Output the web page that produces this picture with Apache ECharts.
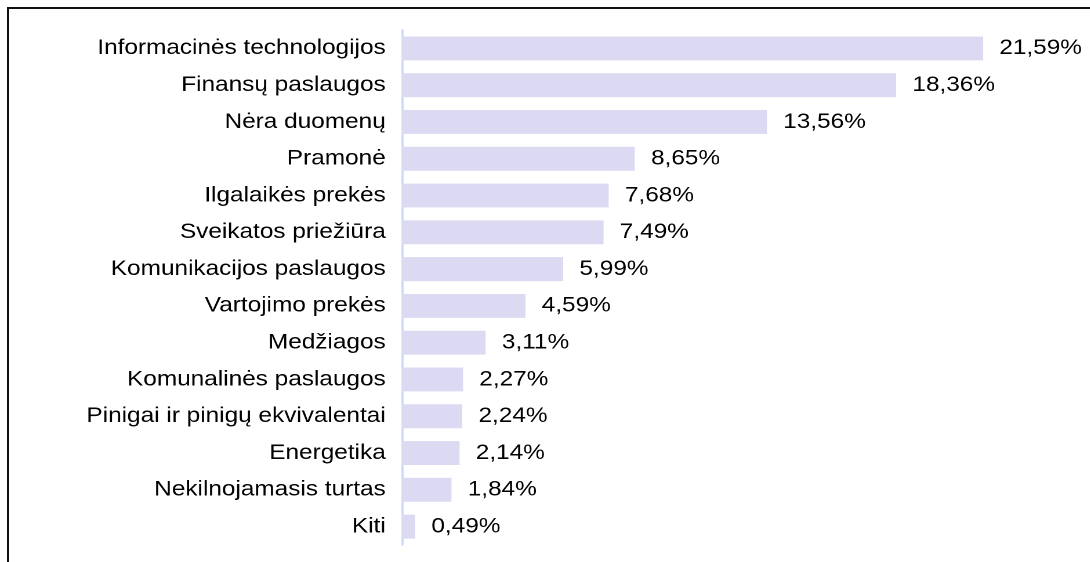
<!DOCTYPE html>
<html>
<head>
<meta charset="utf-8">
<script src="https://cdn.jsdelivr.net/npm/echarts@6/dist/echarts.min.js"></script>
<style>
  html, body { margin: 0; padding: 0; background: #fff; overflow: hidden; }
  #frame {
    position: absolute; left: 7px; top: 7px; width: 1100px; height: 600px;
    border-top: 2px solid #111; border-left: 2px solid #111;
  }
  /* the source picture is a bit stretched sideways, so the chart is too */
  #chart {
    position: absolute; left: 0; top: 0; width: 940px; height: 562px;
    transform: scaleX(1.16); transform-origin: 0 0;
  }
</style>
</head>
<body>
<div id="frame"></div>
<div id="chart"></div>
<script>
  const categories = [
    'Informacinės technologijos',
    'Finansų paslaugos',
    'Nėra duomenų',
    'Pramonė',
    'Ilgalaikės prekės',
    'Sveikatos priežiūra',
    'Komunikacijos paslaugos',
    'Vartojimo prekės',
    'Medžiagos',
    'Komunalinės paslaugos',
    'Pinigai ir pinigų ekvivalentai',
    'Energetika',
    'Nekilnojamasis turtas',
    'Kiti'
  ]
  const shares = [21.59, 18.36, 13.56, 8.65, 7.68, 7.49, 5.99, 4.59, 3.11, 2.27, 2.24, 2.14, 1.84, 0.49]

  const chart = echarts.init(document.getElementById('chart'), null, { devicePixelRatio: 2 })
  const option = {
    animation: false,
    textStyle: { fontFamily: '"Liberation Sans", Arial, sans-serif' },
    grid: { left: 346.5, right: 83, top: 30, bottom: 17, containLabel: false },
    xAxis: {
      type: 'value',
      min: 0,
      max: 22,
      show: false
    },
    yAxis: {
      type: 'category',
      inverse: true,
      data: categories,
      axisLine: { show: true, lineStyle: { color: '#c6d6f4', width: 1.7 } },
      axisTick: { show: false },
      axisLabel: { color: '#000', fontSize: 21, margin: 14 }
    },
    series: [{
      type: 'bar',
      data: shares,
      barCategoryGap: '35%',
      itemStyle: { color: '#dcdaf2' },
      label: {
        show: true,
        position: 'right',
        distance: 14,
        color: '#000',
        fontSize: 21,
        formatter: function (p) {
          return p.value.toFixed(2).replace('.', ',') + '%'
        }
      }
    }]
  }
  chart.setOption(option)
</script>
</body>
</html>
